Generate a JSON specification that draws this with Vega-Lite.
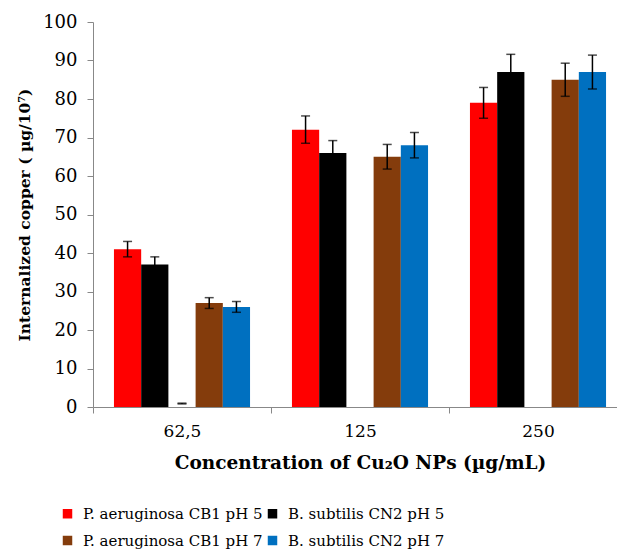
{
  "$schema": "https://vega.github.io/schema/vega-lite/v6.json",
  "width": 524,
  "height": 385,
  "autosize": "none",
  "padding": {"left": 93, "top": 22, "right": 0, "bottom": 152},
  "config": {
    "view": {"stroke": null},
    "font": "DejaVu Serif"
  },
  "data": {
    "values": [
      {"conc": "62,5", "slot": "s1", "series": "P. aeruginosa CB1 pH 5", "value": 41, "lo": 39, "hi": 43},
      {"conc": "62,5", "slot": "s2", "series": "B. subtilis CN2 pH 5", "value": 37, "lo": 35, "hi": 39},
      {"conc": "62,5", "slot": "s3", "series": null, "value": null, "lo": 0.8, "hi": 1.0},
      {"conc": "62,5", "slot": "s4", "series": "P. aeruginosa CB1 pH 7", "value": 27, "lo": 25.6, "hi": 28.4},
      {"conc": "62,5", "slot": "s5", "series": "B. subtilis CN2 pH 7", "value": 26, "lo": 24.6, "hi": 27.4},
      {"conc": "125", "slot": "s1", "series": "P. aeruginosa CB1 pH 5", "value": 72, "lo": 68.5, "hi": 75.6},
      {"conc": "125", "slot": "s2", "series": "B. subtilis CN2 pH 5", "value": 66, "lo": 62.8, "hi": 69.2},
      {"conc": "125", "slot": "s4", "series": "P. aeruginosa CB1 pH 7", "value": 65, "lo": 61.8, "hi": 68.2},
      {"conc": "125", "slot": "s5", "series": "B. subtilis CN2 pH 7", "value": 68, "lo": 64.7, "hi": 71.3},
      {"conc": "250", "slot": "s1", "series": "P. aeruginosa CB1 pH 5", "value": 79, "lo": 75, "hi": 83},
      {"conc": "250", "slot": "s2", "series": "B. subtilis CN2 pH 5", "value": 87, "lo": 82.4, "hi": 91.6},
      {"conc": "250", "slot": "s4", "series": "P. aeruginosa CB1 pH 7", "value": 85, "lo": 80.7, "hi": 89.3},
      {"conc": "250", "slot": "s5", "series": "B. subtilis CN2 pH 7", "value": 87, "lo": 82.6, "hi": 91.4}
    ]
  },
  "encoding": {
    "x": {
      "field": "conc",
      "type": "nominal",
      "sort": ["62,5", "125", "250"],
      "scale": {"range": [0, 534], "paddingInner": 0, "paddingOuter": 0},
      "axis": {
        "title": "Concentration  of Cu₂O NPs (µg/mL)",
        "titleFont": "DejaVu Serif",
        "labelFont": "DejaVu Serif",
        "titleFontSize": 18.5,
        "titleFontWeight": "bold",
        "titleColor": "black",
        "titlePadding": 14,
        "labelFontSize": 17,
        "labelColor": "black",
        "labelAngle": 0,
        "labelPadding": 10,
        "domainColor": "#888888",
        "tickColor": "#888888",
        "tickSize": 6,
        "tickBand": "extent",
        "grid": false
      }
    },
    "xOffset": {
      "field": "slot",
      "type": "nominal",
      "scale": {"domain": ["s1", "s2", "s3", "s4", "s5"], "paddingInner": 0, "paddingOuter": 0.77}
    },
    "y": {
      "field": "value",
      "type": "quantitative",
      "scale": {"domain": [0, 100]},
      "axis": {
        "values": [0, 10, 20, 30, 40, 50, 60, 70, 80, 90, 100],
        "tickCount": 11,
        "labelOverlap": false,
        "grid": false,
        "title": "Internalized copper ( µg/10⁷)",
        "titleFont": "DejaVu Serif",
        "titleFontSize": 15.5,
        "titleFontWeight": "bold",
        "titleColor": "black",
        "titlePadding": 10,
        "labelFont": "DejaVu Serif",
        "labelFontSize": 18,
        "labelColor": "black",
        "labelPadding": 10,
        "domainColor": "#888888",
        "tickColor": "#888888",
        "tickSize": 6
      }
    }
  },
  "layer": [
    {
      "transform": [{"filter": "datum.series != null"}],
      "mark": {"type": "bar"},
      "encoding": {
        "color": {
          "field": "series",
          "type": "nominal",
          "scale": {
            "domain": ["P. aeruginosa CB1 pH 5", "B. subtilis CN2 pH 5", "P. aeruginosa CB1 pH 7", "B. subtilis CN2 pH 7"],
            "range": ["#ff0000", "#000000", "#843c0c", "#0070c0"]
          },
          "legend": {
            "title": null,
            "orient": "none",
            "direction": "horizontal",
            "columns": 2,
            "legendX": -33,
            "legendY": 484,
            "symbolType": "square",
            "symbolSize": 90,
            "symbolStrokeWidth": 0,
            "labelFont": "DejaVu Serif",
            "labelFontSize": 15,
            "labelColor": "black",
            "labelLimit": 400,
            "labelOffset": 8,
            "rowPadding": 11,
            "columnPadding": 2
          }
        }
      }
    },
    {
      "mark": {"type": "rule", "color": "black", "strokeWidth": 1.5},
      "encoding": {
        "y": {"field": "lo", "type": "quantitative"},
        "y2": {"field": "hi"}
      }
    },
    {
      "mark": {"type": "tick", "color": "black", "thickness": 1.5, "size": 9},
      "encoding": {"y": {"field": "lo", "type": "quantitative"}}
    },
    {
      "mark": {"type": "tick", "color": "black", "thickness": 1.5, "size": 9},
      "encoding": {"y": {"field": "hi", "type": "quantitative"}}
    }
  ]
}
